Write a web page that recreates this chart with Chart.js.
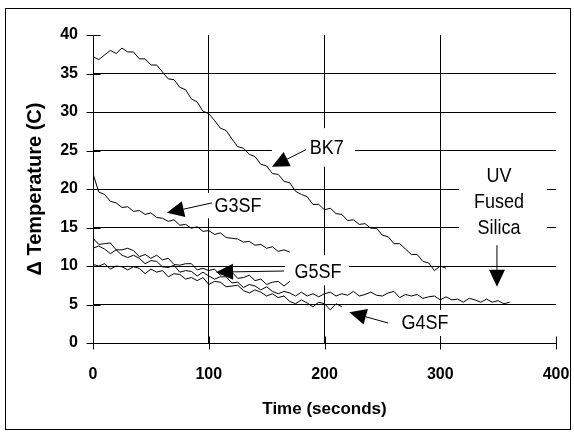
<!DOCTYPE html>
<html>
<head>
<meta charset="utf-8">
<script src="https://cdn.jsdelivr.net/npm/chart.js@4.4.1/dist/chart.umd.min.js"></script>
<style>
  body { margin: 0; background: #fff; }
  canvas { display: block; }
</style>
</head>
<body>
<canvas id="chart" width="574" height="436"></canvas>
<script>
// sample times (s), one reading every 5 seconds
var seconds = [0,5,10,15,20,25,30,35,40,45,50,55,60,65,70,75,80,85,90,95,
  100,105,110,115,120,125,130,135,140,145,150,155,160,165,170,175,180,185,190,195,
  200,205,210,215,220,225,230,235,240,245,250,255,260,265,270,275,280,285,290,295,
  300,305,310,315,320,325,330,335,340,345,350,355,360];

// delta temperature (C) for each glass
var bk7 = [37.2,36.8,37.4,38.0,37.6,38.3,37.8,37.8,36.9,36.9,
  36.1,36.1,35.2,34.3,34.2,33.2,32.9,31.7,31.3,30.1,
  29.8,28.9,27.9,27.6,26.5,25.5,25.3,24.5,24.2,23.2,
  23.0,22.0,21.9,21.0,20.8,19.7,19.3,19.0,18.0,18.0,
  17.3,17.5,16.8,16.7,15.9,16.0,15.4,15.5,14.9,14.9,
  14.0,13.8,12.9,12.9,12.2,11.5,11.5,10.6,10.4,9.4,
  10.0,9.7];
var g3sf = [22.0,19.6,19.3,18.4,18.2,17.6,17.7,17.1,17.2,16.7,
  16.9,16.3,16.2,15.8,16.0,15.3,15.4,14.9,15.1,14.5,
  14.6,14.1,14.3,13.7,13.6,13.5,13.1,13.2,12.7,12.8,
  12.3,12.5,11.9,12.1,11.8];
var g5sf = [13.6,12.8,12.9,13.0,12.1,12.1,12.3,12.0,11.2,11.5,
  11.0,11.4,10.8,11.0,10.2,10.1,10.3,10.3,9.5,9.7,
  9.4,9.6,8.8,9.2,9.2,8.4,8.5,8.8,8.1,8.3,
  7.6,7.9,8.0,7.4,8.0];
var uvSilica = [12.3,12.6,12.2,11.6,12.1,11.4,11.1,11.4,11.0,10.3,
  10.7,10.6,9.9,9.8,10.1,9.2,9.4,9.3,8.7,9.2,
  8.7,8.3,8.6,8.6,7.8,7.9,7.2,7.6,7.4,6.9,
  7.3,6.7,6.4,6.7,6.5,6.1,6.6,6.1,6.4,6.0,
  6.4,6.6,6.1,6.4,6.2,6.7,6.1,6.3,6.6,6.2,
  6.1,6.5,6.7,5.9,6.3,6.1,6.3,5.8,6.0,6.1,
  5.6,6.0,5.6,5.7,5.3,5.8,5.6,5.3,5.7,5.3,
  5.5,5.1,5.3];
var g4sf = [10.2,10.0,10.3,9.6,10.0,9.9,9.5,9.9,9.7,9.0,
  9.6,9.2,9.4,8.6,9.0,8.9,8.3,8.5,8.1,8.5,
  7.6,8.0,7.9,7.3,7.4,7.5,6.8,6.5,6.9,6.6,
  6.1,6.4,5.9,6.1,5.4,5.1,5.6,5.2,4.7,5.3,
  5.1,4.3,5.1,4.7];

var xTicks = [0, 100, 200, 300, 400];
var yTicks = [0, 5, 10, 15, 20, 25, 30, 35, 40];

// callout labels, placed in data units (x seconds, y degrees)
var callouts = [
  { lines: ["BK7"], at: [202, 25.3], box: [154.6, 27.9, 226.3, 22.9], from: [184, 25.1], to: [154.6, 22.9] },
  { lines: ["G3SF"], at: [125.3, 17.8], box: [92.4, 19.5, 151.2, 16.2], from: [102.8, 18.2], to: [63.9, 16.9] },
  { lines: ["G5SF"], at: [194.4, 9.2], box: [166, 11.4, 221.2, 7.5], from: [165, 9.35], to: [106.3, 9.2] },
  { lines: ["G4SF"], at: [286.8, 2.6], box: [260.9, 4.3, 315.3, 0.9], from: [254.9, 2.6], to: [221.5, 4.0] },
  { lines: ["UV", "Fused", "Silica"], at: [350.8, 21.7], step: -3.4, box: [316.2, 24.0, 392.2, 13.1], from: [349, 12.7], to: [349, 7.3] }
];

function toPoints(values) {
  return values.map(function (v, i) { return { x: seconds[i], y: v }; });
}

function series(values) {
  return {
    data: toPoints(values),
    showLine: true,
    borderColor: "#000",
    borderWidth: 1,
    pointRadius: 0,
    tension: 0
  };
}

function drawArrow(ctx, x1, y1, x2, y2) {
  var ang = Math.atan2(y2 - y1, x2 - x1);
  var len = 17, half = 8;
  var bx = x2 - len * Math.cos(ang), by = y2 - len * Math.sin(ang);
  ctx.beginPath();
  ctx.moveTo(x1, y1);
  ctx.lineTo(bx, by);
  ctx.stroke();
  ctx.beginPath();
  ctx.moveTo(x2, y2);
  ctx.lineTo(bx + half * Math.sin(ang), by - half * Math.cos(ang));
  ctx.lineTo(bx - half * Math.sin(ang), by + half * Math.cos(ang));
  ctx.closePath();
  ctx.fill();
}

var chartDecor = {
  id: "chartDecor",
  beforeDraw: function (chart) {
    var ctx = chart.ctx;
    ctx.save();
    ctx.fillStyle = "#fff";
    ctx.fillRect(0, 0, chart.width, chart.height);
    ctx.strokeStyle = "#000";
    ctx.lineWidth = 1;
    ctx.strokeRect(5.5, 8.5, 565, 421);
    ctx.restore();
  },
  beforeDatasetsDraw: function (chart) {
    // white label boxes break the grid lines
    var ctx = chart.ctx, sx = chart.scales.x, sy = chart.scales.y;
    ctx.save();
    ctx.fillStyle = "#fff";
    callouts.forEach(function (c) {
      var x1 = sx.getPixelForValue(c.box[0]), y1 = sy.getPixelForValue(c.box[1]);
      var x2 = sx.getPixelForValue(c.box[2]), y2 = sy.getPixelForValue(c.box[3]);
      ctx.fillRect(x1, y1, x2 - x1, y2 - y1);
    });
    ctx.restore();
  },
  afterDatasetsDraw: function (chart) {
    var ctx = chart.ctx, sx = chart.scales.x, sy = chart.scales.y;
    var left = Math.round(sx.getPixelForValue(0)) + 0.5;
    var bottom = Math.round(sy.getPixelForValue(0)) + 0.5;
    ctx.save();
    ctx.strokeStyle = "#000";
    ctx.fillStyle = "#000";
    ctx.lineWidth = 1;
    // axes with crossing tick marks
    ctx.beginPath();
    ctx.moveTo(left, sy.getPixelForValue(40));
    ctx.lineTo(left, bottom);
    ctx.lineTo(sx.getPixelForValue(400), bottom);
    yTicks.forEach(function (v) {
      var y = Math.round(sy.getPixelForValue(v)) + 0.5;
      ctx.moveTo(left - 7, y);
      ctx.lineTo(left + 7, y);
    });
    xTicks.forEach(function (v) {
      var x = Math.round(sx.getPixelForValue(v)) + 0.5;
      ctx.moveTo(x, bottom - 7);
      ctx.lineTo(x, bottom + 6);
    });
    ctx.stroke();

    ctx.font = "18px 'Liberation Sans', Arial, sans-serif";
    ctx.textAlign = "center";
    ctx.textBaseline = "middle";
    callouts.forEach(function (c) {
      c.lines.forEach(function (t, i) {
        var x = sx.getPixelForValue(c.at[0]);
        var y = sy.getPixelForValue(c.at[1] + i * (c.step || 0));
        ctx.save();
        ctx.translate(x, y);
        ctx.scale(1, 1.15);
        ctx.fillText(t, 0, 0);
        ctx.restore();
      });
      drawArrow(ctx,
        sx.getPixelForValue(c.from[0]), sy.getPixelForValue(c.from[1]),
        sx.getPixelForValue(c.to[0]), sy.getPixelForValue(c.to[1]));
    });
    ctx.restore();
  }
};

function renderChart(chartId) {
  var ctx = document.getElementById(chartId).getContext("2d");
  new Chart(ctx, {
    type: "scatter",
    data: {
      datasets: [series(bk7), series(g3sf), series(g5sf), series(uvSilica), series(g4sf)]
    },
    options: {
      responsive: false,
      animation: false,
      events: [],
      layout: { autoPadding: false, padding: { top: 35, right: 18, bottom: 0, left: 0 } },
      scales: {
        x: {
          type: "linear",
          min: 0,
          max: 400,
          afterFit: function (scale) {
            scale.height = 93;
            scale.paddingLeft = 0;
            scale.paddingRight = 0;
          },
          afterBuildTicks: function (scale) {
            scale.ticks = xTicks.map(function (v) { return { value: v }; });
          },
          border: { display: false },
          grid: {
            drawTicks: false,
            color: function (c) {
              return (c.tick && c.tick.value > 0 && c.tick.value < 400) ? "#000" : "rgba(0,0,0,0)";
            }
          },
          ticks: {
            padding: 22,
            maxRotation: 0,
            color: "#000",
            font: { family: "'Liberation Sans', Arial, sans-serif", size: 16, weight: "bold" }
          },
          title: {
            display: true,
            text: "Time (seconds)",
            color: "#000",
            padding: { top: 0, bottom: 16 },
            font: { family: "'Liberation Sans', Arial, sans-serif", size: 17, weight: "bold" }
          }
        },
        y: {
          min: 0,
          max: 40,
          afterFit: function (scale) {
            scale.width = 93;
            scale.paddingTop = 0;
            scale.paddingBottom = 0;
          },
          afterBuildTicks: function (scale) {
            scale.ticks = yTicks.map(function (v) { return { value: v }; });
          },
          border: { display: false },
          grid: {
            drawTicks: false,
            color: function (c) {
              return (c.tick && c.tick.value > 0 && c.tick.value < 40) ? "#000" : "rgba(0,0,0,0)";
            }
          },
          ticks: {
            padding: 15,
            color: "#000",
            font: { family: "'Liberation Sans', Arial, sans-serif", size: 16, weight: "bold" }
          },
          title: {
            display: true,
            text: "\u0394 Temperature (C)",
            color: "#000",
            padding: { top: 23, bottom: 0 },
            font: { family: "'Liberation Sans', Arial, sans-serif", size: 20, weight: "bold" }
          }
        }
      },
      plugins: {
        legend: { display: false },
        tooltip: { enabled: false }
      }
    },
    plugins: [chartDecor]
  });
}

renderChart("chart");
</script>
</body>
</html>
